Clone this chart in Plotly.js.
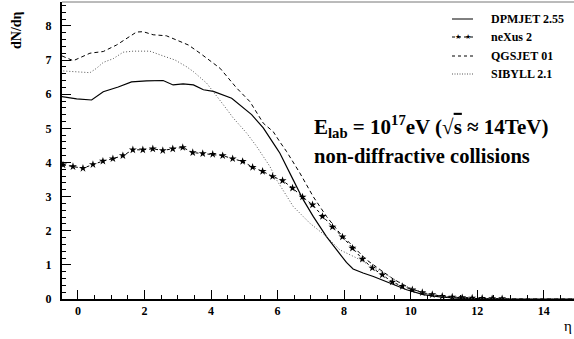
<!DOCTYPE html>
<html>
<head>
<meta charset="utf-8">
<script src="https://cdn.plot.ly/plotly-3.0.1.min.js"></script>
<style>html,body{margin:0;padding:0;background:#fff;}#chart{width:574px;height:339px;}</style>
</head>
<body>
<div id="chart"></div>
<script>
// ---- data ----
const seriesNames = ["DPMJET 2.55", "neXus 2", "QGSJET 01", "SIBYLL 2.1"];

const dpmjetX = [-0.49,-0.04,0.41,0.76,1.21,1.61,2.06,2.56,2.86,3.16,3.47,3.77,4.07,4.62,5.22,5.57,5.97,6.07,6.47,6.77,7.07,7.47,7.87,8.07,8.27,8.57,8.88,9.38,9.88,10.38,10.88,11.5,12,13,15];
const dpmjetY = [5.93,5.86,5.83,6.07,6.21,6.36,6.39,6.40,6.27,6.30,6.27,6.13,6.08,5.88,5.40,5.01,4.42,4.27,3.49,2.91,2.42,1.83,1.32,1.07,0.88,0.76,0.66,0.47,0.27,0.13,0.06,0.02,0.01,0,0];

const nexusX = [-0.45,-0.15,0.15,0.45,0.75,1.05,1.35,1.65,1.95,2.25,2.55,2.85,3.15,3.45,3.75,4.05,4.35,4.65,4.95,5.25,5.55,5.85,6.15,6.45,6.75,7.05,7.35,7.65,7.95,8.25,8.55,8.85,9.15,9.45,9.75,10.05,10.35,10.65,10.95,11.25,11.55,11.85,12.15,12.45,12.75];
const nexusY = [3.93,3.88,3.83,3.94,4.04,4.11,4.20,4.37,4.37,4.40,4.35,4.40,4.44,4.29,4.26,4.24,4.20,4.11,4.03,3.86,3.74,3.59,3.47,3.25,2.99,2.76,2.42,2.11,1.82,1.49,1.17,0.91,0.71,0.50,0.37,0.27,0.19,0.13,0.08,0.06,0.04,0.03,0.02,0.01,0.01];

const qgsjetX = [-0.48,-0.14,0.36,0.76,1.16,1.46,1.76,1.96,2.26,2.66,2.97,3.32,3.67,4.0,4.27,4.77,5.17,5.57,5.87,6.07,6.27,6.67,7.07,7.47,7.87,8.27,8.67,9.08,9.5,10,10.5,11,11.5,12,12.5,13,15];
const qgsjetY = [7.12,6.98,7.20,7.25,7.44,7.64,7.82,7.83,7.74,7.71,7.59,7.44,7.20,6.96,6.76,6.18,5.78,5.15,4.90,4.60,4.32,3.69,3.00,2.42,1.93,1.54,1.15,0.86,0.57,0.30,0.15,0.07,0.03,0.01,0.005,0.002,0];

const sibyllX = [-0.44,0.06,0.36,0.56,0.76,1.06,1.36,1.66,2.16,2.56,2.92,3.27,3.47,3.87,4.07,4.37,4.67,5.07,5.37,5.47,5.77,5.97,6.47,6.97,7.47,7.87,8.38,8.88,9.38,9.88,10.38,10.88,11.5,12,13,15];
const sibyllY = [6.68,6.65,6.63,6.76,6.93,7.04,7.23,7.26,7.26,7.12,7.00,6.80,6.66,6.32,6.08,5.69,5.30,4.86,4.47,4.32,3.88,3.49,2.71,2.22,1.83,1.44,1.20,0.93,0.66,0.37,0.18,0.08,0.03,0.01,0,0];

const xTickVals = [0,2,4,6,8,10,12,14];
const yTickVals = [0,1,2,3,4,5,6,7,8];

// ---- layout helpers ----
const W = 574, H = 339;
const M = {l: 62, r: 0, t: 2, b: 40};
const pw = W - M.l - M.r, ph = H - M.t - M.b;
const px = x => (x - M.l) / pw;
const py = y => 1 - (y - M.t) / ph;

const serif = "Liberation Serif";

const traces = [
  {x: dpmjetX, y: dpmjetY, mode: 'lines', name: seriesNames[0],
   line: {color: '#000', width: 1.2, dash: 'solid'}},
  {x: nexusX, y: nexusY, mode: 'lines+markers', name: seriesNames[1],
   line: {color: '#000', width: 1, dash: '3px,3px'},
   marker: {symbol: 'star', size: 6, color: '#000'}},
  {x: qgsjetX, y: qgsjetY, mode: 'lines', name: seriesNames[2],
   line: {color: '#000', width: 1, dash: '4px,3px'}},
  {x: sibyllX, y: sibyllY, mode: 'lines', name: seriesNames[3],
   line: {color: '#555', width: 1, dash: '1px,2px'}}
];

// manual legend
const legRows = [19, 37, 56, 74];
const legDash = ['solid', '3px,3px', '3px,3px', '1px,1.5px'];
const legColor = ['#000', '#000', '#000', '#555'];
const shapes = [
  {type: 'line', xref: 'paper', yref: 'paper', x0: 0, x1: 1, y0: 1, y1: 1,
   line: {color: '#777', width: 1}}
];
const annotations = [];
seriesNames.forEach((n, i) => {
  shapes.push({type: 'line', xref: 'paper', yref: 'paper',
    x0: px(452), x1: px(473), y0: py(legRows[i]), y1: py(legRows[i]),
    line: {color: legColor[i], width: 1, dash: legDash[i]}});
  annotations.push({xref: 'paper', yref: 'paper', x: px(489), y: py(legRows[i]),
    xanchor: 'left', yanchor: 'middle', showarrow: false, text: n,
    font: {family: serif, size: 12, color: '#000', weight: 'bold'}});
});
[458, 468].forEach(sx => annotations.push({xref: 'paper', yref: 'paper',
  x: px(sx), y: py(legRows[1]), xanchor: 'center', yanchor: 'middle', showarrow: false,
  text: '★', font: {family: 'DejaVu Sans', size: 7, color: '#000'}}));

annotations.push({xref: 'paper', yref: 'paper', x: px(312), y: py(127),
  xanchor: 'left', yanchor: 'middle', showarrow: false,
  text: "E<sub>lab</sub> = 10<sup>17</sup>eV (√<span style='text-decoration:overline'>s</span> ≈ 14TeV)",
  font: {family: serif, size: 21, color: '#000', weight: 'bold'}});
annotations.push({xref: 'paper', yref: 'paper', x: px(312), y: py(156),
  xanchor: 'left', yanchor: 'middle', showarrow: false,
  text: "non-diffractive collisions",
  font: {family: serif, size: 20.5, color: '#000', weight: 'bold'}});
annotations.push({xref: 'paper', yref: 'paper', x: px(16), y: py(30),
  xanchor: 'center', yanchor: 'middle', showarrow: false, textangle: -90,
  text: "dN/dη", font: {family: serif, size: 14, color: '#000', weight: 'bold'}});
annotations.push({xref: 'paper', yref: 'paper', x: px(568), y: py(326),
  xanchor: 'center', yanchor: 'middle', showarrow: false,
  text: "η", font: {family: serif, size: 15, color: '#000'}});

const layout = {
  width: W, height: H,
  margin: M,
  paper_bgcolor: '#fff', plot_bgcolor: '#fff',
  showlegend: false,
  xaxis: {
    range: [-0.48, 14.91], tickvals: xTickVals, ticktext: xTickVals.map(String),
    ticks: 'inside', ticklen: 9, tickwidth: 1, tickcolor: '#000',
    showline: true, linecolor: '#000', linewidth: 2, zeroline: false, showgrid: false,
    minor: {dtick: 0.5, tick0: 0, ticks: 'inside', ticklen: 4, tickcolor: '#000', tickwidth: 1},
    tickfont: {family: serif, size: 12, color: '#000', weight: 'bold'}
  },
  yaxis: {
    range: [0, 8.70], tickvals: yTickVals, ticktext: yTickVals.map(String),
    ticks: 'inside', ticklen: 9, tickwidth: 1, tickcolor: '#000',
    showline: true, linecolor: '#000', linewidth: 2, zeroline: false, showgrid: false,
    minor: {dtick: 0.2, tick0: 0, ticks: 'inside', ticklen: 4, tickcolor: '#000', tickwidth: 1},
    tickfont: {family: serif, size: 12, color: '#000', weight: 'bold'},
    ticklabelstandoff: 6
  },
  shapes: shapes,
  annotations: annotations
};

Plotly.newPlot('chart', traces, layout, {displayModeBar: false, staticPlot: true});
</script>
</body>
</html>
